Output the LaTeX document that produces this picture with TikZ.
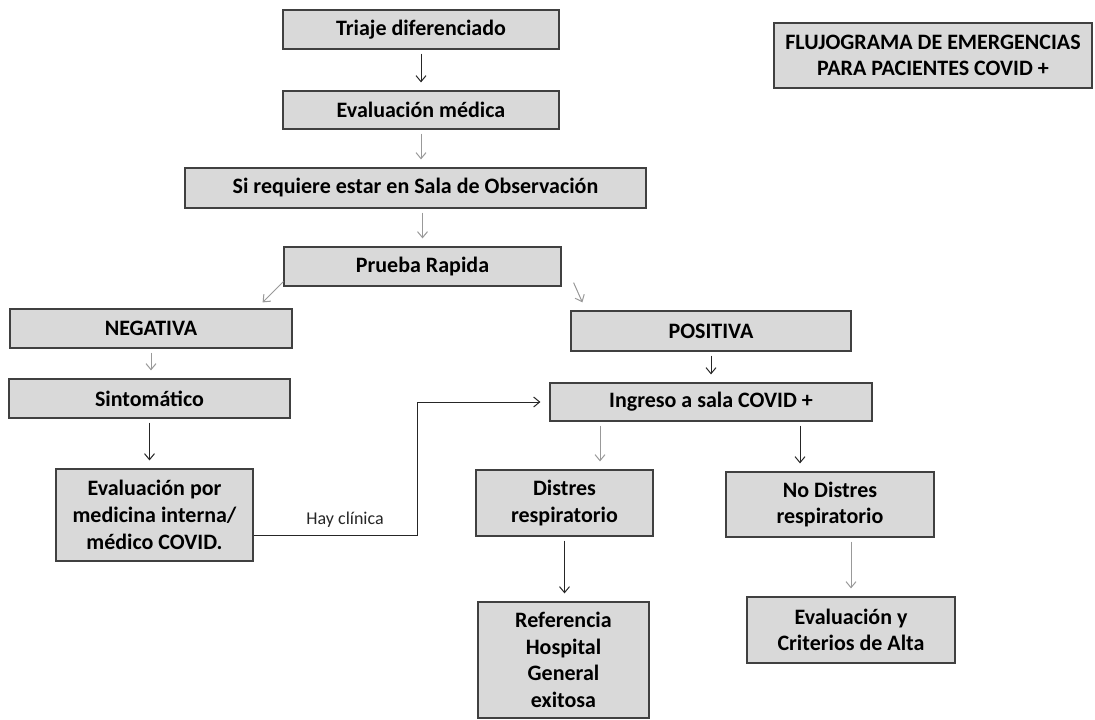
\documentclass[tikz,border=0pt]{standalone}
\usepackage{fontspec}
\setmainfont{Carlito}
\usetikzlibrary{positioning,calc,arrows.meta}

\begin{document}
\begin{tikzpicture}[
x=1pt,
y=-1pt,
box/.style={
  draw=black!75,
  fill=black!15,
  line width=1.2pt,
  align=center,
  inner sep=2pt,
  font=\bfseries\fontsize{22}{26.7}\selectfont
  },
sz/.style 2 args={
  minimum width=#1pt,
  minimum height=#2pt
  },
arr/.style={
  ->,
  draw=black!40,
  line width=1pt,
  shorten <=4pt,
  shorten >=8pt
  },
arrk/.style={
  arr,
  draw=black!85
  },
link/.style={
  ->,
  draw=black!85,
  line width=1pt
  },
>={Straight Barb[length=6pt,width=10pt]}
]
\useasboundingbox (0,0) rectangle (1095,720);

% main column
\node[box,sz={276}{39}] (tri) at (421,29.5) {Triaje diferenciado};
\node[box,sz={276}{38}] (evm) at (421,110) {Evaluación médica};
\node[box,sz={461}{40}] (sala) at (415.5,188) {Si requiere estar en Sala de Observación};
\node[box,sz={277}{39}] (pru) at (422.5,266.5) {Prueba Rapida};

% title
\node[box,sz={318}{65}] (tit) at (933,55.5)
  {FLUJOGRAMA DE EMERGENCIAS\\PARA PACIENTES COVID +};

% left branch
\node[box,sz={282}{39}] (neg) at (151,328.5) {NEGATIVA};
\node[box,sz={281}{39}] (sin) at (149.5,398.5) {Sintomático};
\node[box,sz={197}{92}] (evi) at (154.5,515)
  {Evaluación por\\medicina interna/\\médico COVID.};

% right branch
\node[box,sz={280}{40}] (pos) at (711,331) {POSITIVA};
\node[box,sz={322}{38}] (ing) at (711,402) {Ingreso a sala COVID +};
\node[box,sz={177}{66}] (dis) at (564.5,503) {Distres\\respiratorio};
\node[box,sz={208}{65}] (nod) at (830,504.5) {No Distres\\respiratorio};
\node[box,sz={171}{116}] (ref) at (563.5,660)
  {Referencia\\Hospital\\General\\exitosa};
\node[box,sz={208}{66}] (alt) at (851,630)
  {Evaluación y\\Criterios de Alta};

% arrows
\draw[arrk] (tri) -- (evm);
\draw[arr] (evm) -- (evm.south |- sala.north);
\draw[arr] (sala.south -| pru.north) -- (pru);
\draw[arr,shorten <=0pt,shorten >=0pt] ([yshift=5pt]pru.south west)
  -- ([xshift=-30pt,yshift=6pt]neg.north east);
\draw[arr,shorten <=0pt,shorten >=0pt] ([xshift=12pt,yshift=4pt]pru.south east)
  -- ([xshift=12pt,yshift=8pt]pos.north west);
\draw[arr] (neg) -- (neg.south |- sin.north);
\draw[arrk] (pos) -- (ing);
\draw[arrk] (sin) -- (sin.south |- evi.north);

\coordinate (ingL) at ([xshift=-111pt]ing.south);
\coordinate (ingR) at ([xshift=89pt]ing.south);
\draw[arr] (ingL) -- (ingL |- dis.north);
\draw[arrk] (ingR) -- (ingR |- nod.north);
\draw[arrk] (dis) -- (dis.south |- ref.north);
\draw[arr] (nod.south -| alt.north) -- (alt);

% hay clinica
\coordinate (turn) at (417,402);
\draw[link,shorten >=9pt] ([yshift=-20pt]evi.east) -| node[pos=0.28,above=4pt,
  font=\fontsize{18}{21}\selectfont,text=black!85] (hay) {Hay clínica}
  (turn) -- (ing.west);
\end{tikzpicture}
\end{document}
